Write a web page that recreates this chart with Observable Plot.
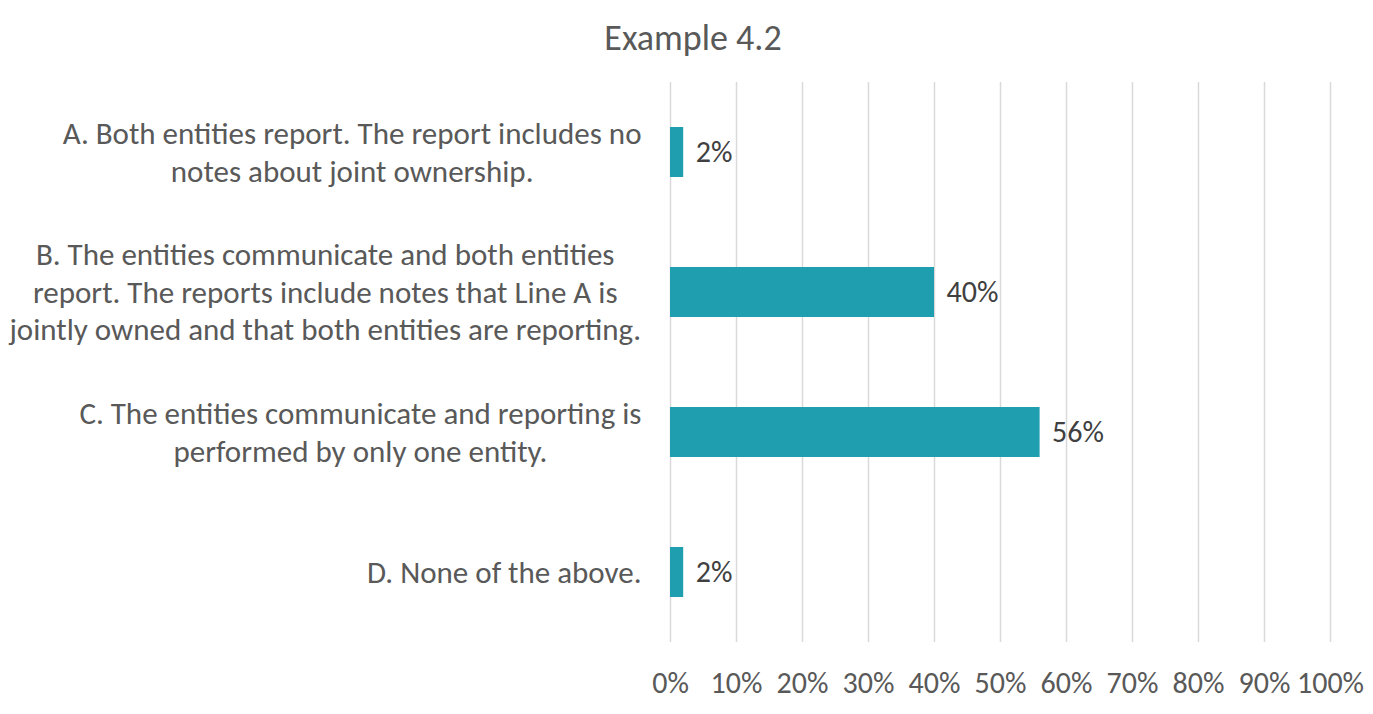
<!DOCTYPE html>
<html>
<head>
<meta charset="utf-8">
<script src="https://cdn.jsdelivr.net/npm/d3@7"></script>
<script src="https://cdn.jsdelivr.net/npm/@observablehq/plot@0.6"></script>
<style>
  html, body { margin: 0; padding: 0; background: #fff; }
  #title { font: 36px Carlito, Calibri, Lato, sans-serif; height: 70px; line-height: 76px; color: #595959; text-align: center; padding-left: 13px; box-sizing: border-box; width: 1373px; overflow: visible; }
</style>
</head>
<body>
<div id="title">Example 4.2</div>
<div id="chart"></div>
<script>
const categories = [
  "A. Both entities report. The report includes no\nnotes about joint ownership.",
  "B. The entities communicate and both entities\nreport. The reports include notes that Line A is\njointly owned and that both entities are reporting.",
  "C. The entities communicate and reporting is\nperformed by only one entity.",
  "D. None of the above."
];
const values = [0.02, 0.40, 0.56, 0.02];
const xTicks = [0, 0.1, 0.2, 0.3, 0.4, 0.5, 0.6, 0.7, 0.8, 0.9, 1.0];

const data = categories.map((c, i) => ({category: c, value: values[i]}));
const pct = d => Math.round(d * 100) + "%";

const chart = Plot.plot({
  width: 1373,
  height: 644,
  marginLeft: 670,
  marginRight: 43,
  marginTop: 12,
  marginBottom: 72,
  style: {fontFamily: "Carlito, Calibri, Lato, sans-serif", fontSize: "30px", color: "#595959", background: "white", overflow: "visible"},
  x: {domain: [0, 1], axis: null},
  y: {domain: categories, padding: 0, axis: null},
  marks: [
    Plot.gridX(xTicks, {stroke: "#d9d9d9", strokeOpacity: 1, strokeWidth: 1.5}),
    Plot.axisX(xTicks, {tickSize: 0, tickPadding: 29, tickFormat: pct, label: null, fill: "#595959", fontSize: 30}),
    Plot.barX(data, {x: "value", y: "category", fill: "#1f9eb0", insetTop: 45, insetBottom: 45}),
    Plot.text(data, {x: "value", y: "category", text: d => pct(d.value), textAnchor: "start", dx: 12, fill: "#404040", fontSize: 30}),
    Plot.text(categories, {y: d => d, frameAnchor: "left", text: d => d, textAnchor: "middle", lineHeight: 1.22, dy: -2, fill: "#595959", fontSize: 31})
  ]
});
document.getElementById("chart").appendChild(chart);

// Excel-style: each label block is right-aligned next to the axis, its lines centered within the block
const textGroups = chart.querySelectorAll('g[aria-label="text"]');
const labelGroup = textGroups[textGroups.length - 1];
labelGroup.querySelectorAll("text").forEach(t => {
  const w = t.getBBox().width;
  const prev = t.getAttribute("transform") || "";
  t.setAttribute("transform", `translate(${-29 - w / 2},0) ${prev}`);
});
</script>
</body>
</html>
